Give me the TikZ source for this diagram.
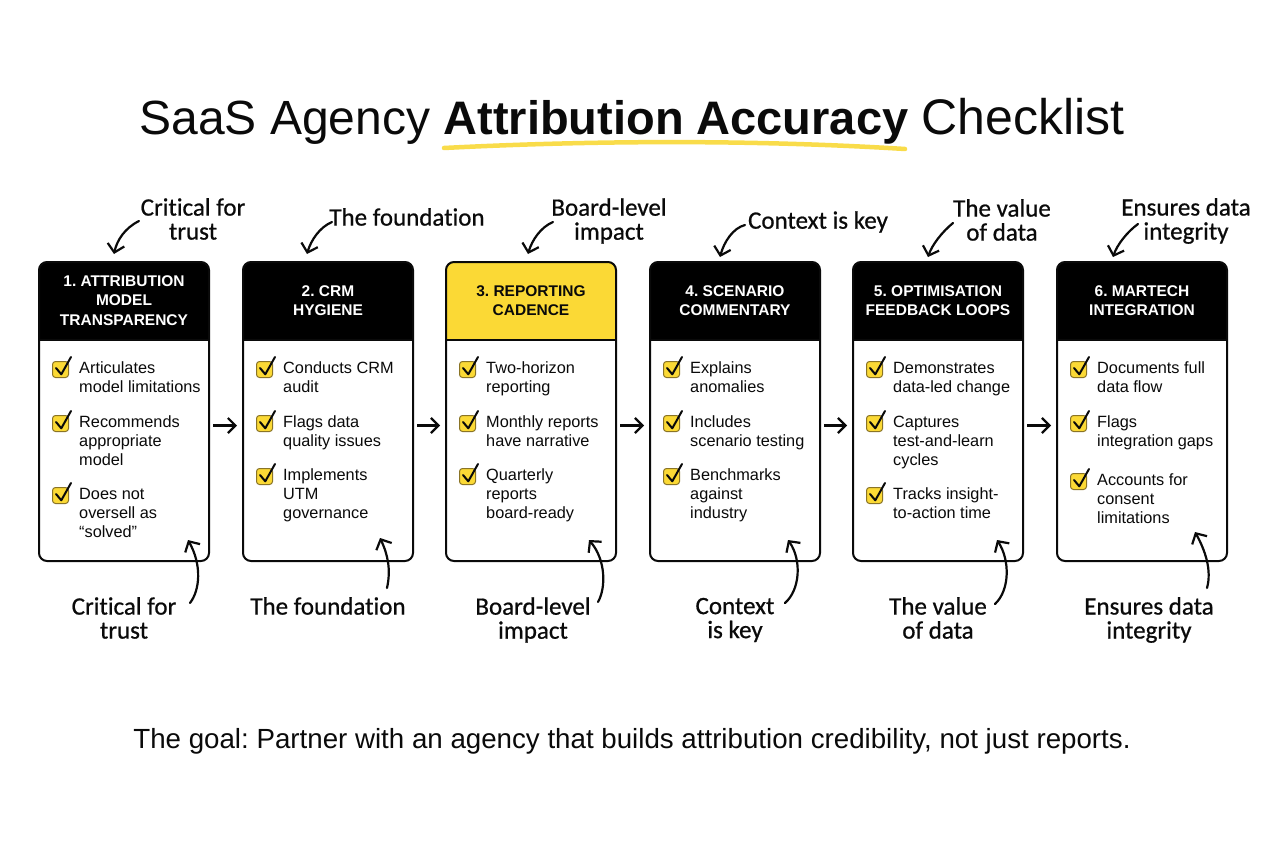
\documentclass[tikz,border=0pt]{standalone}
\usepackage{fontspec}
\setmainfont{Liberation Sans}
\newfontfamily\handfont[RawFeature={embolden=0.7},Ligatures=NoCommon]{Carlito}
\usetikzlibrary{arrows.meta}
\definecolor{ink}{HTML}{0A0A0A}
\definecolor{hiyellow}{HTML}{FBD935}
\definecolor{lineyellow}{HTML}{F9DC4A}
\definecolor{boxedge}{HTML}{8A7426}
\tikzset{
  cardbox/.style={draw=ink,line width=2pt,rounded corners=8pt,minimum width=170pt,minimum height=299pt,inner sep=0pt,outer sep=0pt,anchor=north west},
  headtext/.style={align=center,inner sep=0pt,font=\frenchspacing\fontsize{15.5}{19.2}\selectfont\bfseries},
  itemtext/.style={anchor=north west,align=left,inner sep=0pt,text=ink,font=\fontsize{16.3}{19}\selectfont},
  chkbox/.style={draw=boxedge,fill=hiyellow,line width=1pt,rounded corners=3pt,minimum size=16pt,inner sep=0pt},
  chkmark/.style={draw=ink,line width=2pt,line cap=round,line join=round},
  flowarrow/.style={draw=ink,line width=2.2pt,-{Straight Barb[length=7.5pt,width=15pt,line width=2.2pt]},shorten <=4pt,shorten >=6pt},
  notearrow/.style={draw=ink,line width=2.2pt,line cap=round,-{Straight Barb[length=8pt,width=17pt,line width=2.2pt]}},
  notetext/.style={align=center,inner sep=0pt,text=ink,font=\handfont\fontsize{25}{24}\selectfont}
}
\newcommand{\cardbase}[3]{% id, left x, header fill
  \fill[white,rounded corners=8pt] (#2,262) rectangle (#2+170,561);
  \begin{scope}
    \clip[rounded corners=8pt] (#2,262) rectangle (#2+170,561);
    \fill[#3] (#2,262) rectangle (#2+170,340);
    \draw[ink,line width=1.5pt] (#2,340) -- (#2+170,340);
  \end{scope}
  \node[cardbox] (c#1) at (#2,262) {};
}
\newcommand{\chkitem}[4]{% id, card left x, line centre y, text
  \node[chkbox] (b#1) at (#2+21.5,#3+2.5) {};
  \draw[chkmark] ([shift={(-4.5,-1.5)}]b#1.center) -- ([shift={(0.8,4.8)}]b#1.center) -- ([shift={(10.5,-12.5)}]b#1.center);
  \node[itemtext] (t#1) at (#2+40,#3-6) {\rule{0pt}{12pt}#4};
}
\begin{document}
\begin{tikzpicture}[x=1pt,y=-1pt]
\useasboundingbox (0,0) rectangle (1264,848);
\fill[white] (0,0) rectangle (1264,848);

% title
\node[inner sep=0pt,text=ink,font=\fontsize{48}{54}\selectfont] (title) at (632,121.5) {SaaS Agency {\fontsize{47}{54}\selectfont\bfseries Attribution Accuracy} {\fontsize{50}{54}\selectfont Checklist}};
\coordinate (ulA) at (444,148);
\coordinate (ulB) at (905,149);
\draw[lineyellow,line width=4.5pt,line cap=round] (ulA) .. controls (600,140) and (760,140) .. (ulB);

% cards
\cardbase{1}{39}{black}
\cardbase{2}{243}{black}
\cardbase{3}{446}{hiyellow}
\cardbase{4}{650}{black}
\cardbase{5}{853}{black}
\cardbase{6}{1057}{black}

\node[headtext,text=white] (h1) at (124,300.5) {1. ATTRIBUTION\\MODEL\\TRANSPARENCY};
\node[headtext,text=white] (h2) at (328,300.5) {2. CRM\\HYGIENE};
\node[headtext,text=ink]   (h3) at (531,300.5) {3. REPORTING\\CADENCE};
\node[headtext,text=white] (h4) at (735,300.5) {4. SCENARIO\\COMMENTARY};
\node[headtext,text=white] (h5) at (938,300.5) {5. OPTIMISATION\\FEEDBACK LOOPS};
\node[headtext,text=white] (h6) at (1142,300.5) {6. MARTECH\\INTEGRATION};

% items
\chkitem{11}{39}{367}{Articulates\\model limitations}
\chkitem{12}{39}{421}{Recommends\\appropriate\\model}
\chkitem{13}{39}{493}{Does not\\oversell as\\“solved”}

\chkitem{21}{243}{367}{Conducts CRM\\audit}
\chkitem{22}{243}{421}{Flags data\\quality issues}
\chkitem{23}{243}{474}{Implements\\UTM\\governance}

\chkitem{31}{446}{367}{Two-horizon\\reporting}
\chkitem{32}{446}{421}{Monthly reports\\have narrative}
\chkitem{33}{446}{474}{Quarterly\\reports\\board-ready}

\chkitem{41}{650}{367}{Explains\\anomalies}
\chkitem{42}{650}{421}{Includes\\scenario testing}
\chkitem{43}{650}{474}{Benchmarks\\against\\industry}

\chkitem{51}{853}{367}{Demonstrates\\data-led change}
\chkitem{52}{853}{421}{Captures\\test-and-learn\\cycles}
\chkitem{53}{853}{493}{Tracks insight-\\to-action time}

\chkitem{61}{1057}{367}{Documents full\\data flow}
\chkitem{62}{1057}{421}{Flags\\integration gaps}
\chkitem{63}{1057}{479}{Accounts for\\consent\\limitations}

% flow arrows
\foreach \a/\b in {1/2,2/3,3/4,4/5,5/6}
  \draw[flowarrow] ([yshift=-14pt]c\a.east) -- ([yshift=-14pt]c\b.west);

% top notes
\node[notetext] (nt1) at (193,219) {Critical for\\trust};
\node[notetext] (nt2) at (407,217) {The foundation};
\node[notetext] (nt3) at (609,221) {Board-level\\impact};
\node[notetext] (nt4) at (818,222) {Context is key};
\node[notetext] (nt5) at (1002,220) {The value\\of data};
\node[notetext] (nt6) at (1186,221) {Ensures data\\integrity};

\coordinate (ts1) at (139,221); \coordinate (te1) at (114,254);
\coordinate (ts2) at (332,222); \coordinate (te2) at (307,254);
\coordinate (ts3) at (553,222); \coordinate (te3) at (528,254);
\coordinate (ts4) at (745,225); \coordinate (te4) at (720,257);
\coordinate (ts5) at (953,223); \coordinate (te5) at (928,257);
\coordinate (ts6) at (1138,224); \coordinate (te6) at (1113,257);
\draw[notearrow] (ts1) .. controls (125,228) and (117,240) .. (te1);
\draw[notearrow] (ts2) .. controls (320,227) and (311,240) .. (te2);
\draw[notearrow] (ts3) .. controls (541,227) and (532,240) .. (te3);
\draw[notearrow] (ts4) .. controls (733,228) and (724,242) .. (te4);
\draw[notearrow] (ts5) .. controls (942,232) and (932,245) .. (te5);
\draw[notearrow] (ts6) .. controls (1127,232) and (1117,245) .. (te6);

% bottom notes
\node[notetext] (nb1) at (124,618) {Critical for\\trust};
\node[notetext] (nb2) at (328,606) {The foundation};
\node[notetext] (nb3) at (533,620) {Board-level\\impact};
\node[notetext] (nb4) at (735,620) {Context\\is key};
\node[notetext] (nb5) at (938,618) {The value\\of data};
\node[notetext] (nb6) at (1149,620) {Ensures data\\integrity};

\coordinate (bs1) at (190,603); \coordinate (be1) at (188,540);
\coordinate (bs2) at (387,588); \coordinate (be2) at (380,538);
\coordinate (bs3) at (598,602); \coordinate (be3) at (589,540);
\coordinate (bs4) at (785,603); \coordinate (be4) at (788,540);
\coordinate (bs5) at (995,604); \coordinate (be5) at (997,540);
\coordinate (bs6) at (1207,588); \coordinate (be6) at (1195,532);
\draw[notearrow] (bs1) .. controls (200,590) and (202,565) .. (be1);
\draw[notearrow] (bs2) .. controls (391,570) and (388,555) .. (be2);
\draw[notearrow] (bs3) .. controls (606,588) and (606,560) .. (be3);
\draw[notearrow] (bs4) .. controls (800,590) and (802,560) .. (be4);
\draw[notearrow] (bs5) .. controls (1010,590) and (1010,560) .. (be5);
\draw[notearrow] (bs6) .. controls (1212,570) and (1205,550) .. (be6);

% closing line
\node[inner sep=0pt,text=ink,font=\frenchspacing\fontsize{27.7}{32}\selectfont] (goal) at (632,741) {The goal: Partner with an agency that builds attribution credibility, not just reports.};
\end{tikzpicture}
\end{document}
